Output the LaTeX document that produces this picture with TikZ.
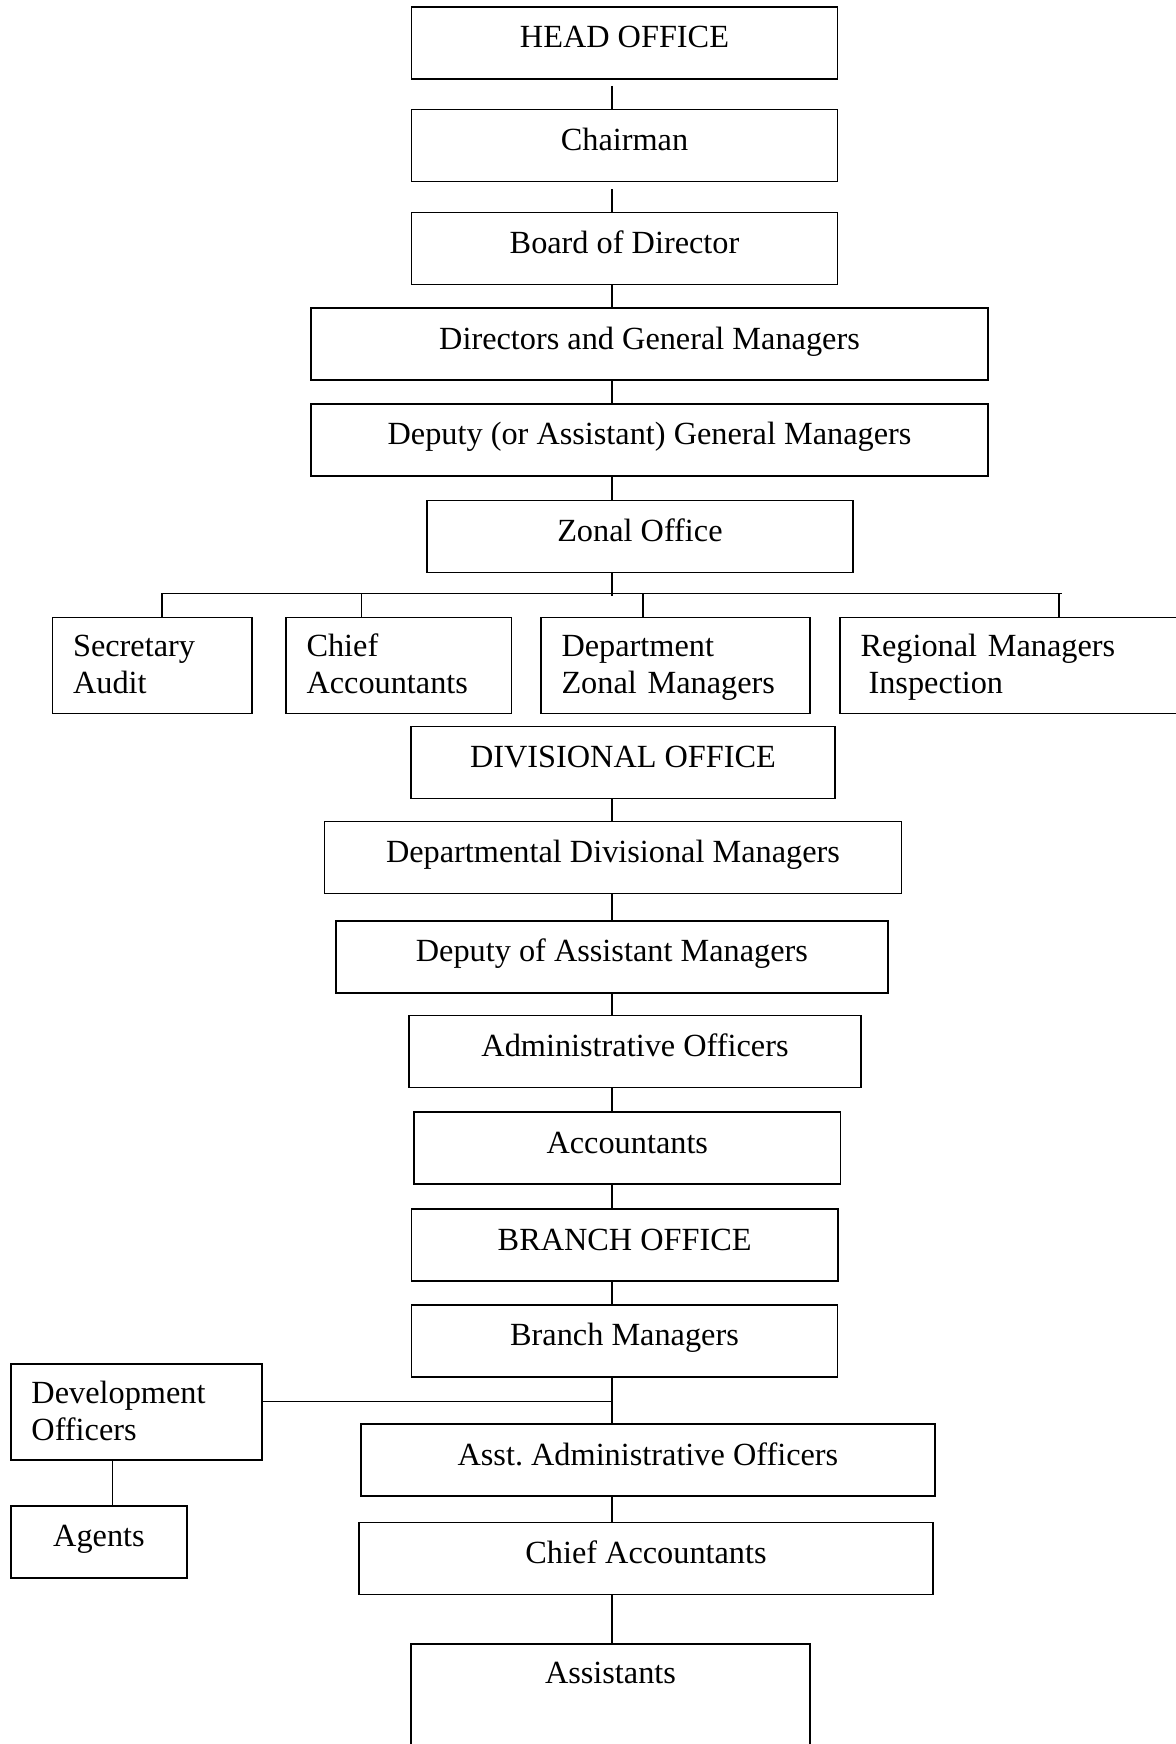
\documentclass[tikz,border=0pt]{standalone}
\usepackage{fontspec}
\setmainfont{Liberation Serif}
\usepackage{tikz}

\begin{document}
\begin{tikzpicture}
\tikzset{box/.style = {shape=rectangle,draw,line width=0.45pt,inner sep=0pt,
font=\fontsize{9.19}{10.44}\selectfont,text height=0.25cm,text depth=0.15cm,
minimum height=0.72cm}}
\tikzset{lbox/.style = {box,align=left,inner xsep=0.205cm,text depth=0.42cm,
minimum height=0.96cm}}
\tikzset{edge/.style = {line width=0.4pt}}
\path[use as bounding box] (0,0) rectangle (11.76,-17.44);
\clip (0,0) rectangle (11.76,-17.44);
% head office
\node[box,minimum width=4.26cm] (head) at (6.245,-0.43) {HEAD OFFICE};
\node[box,minimum width=4.26cm] (chair) at (6.245,-1.457) {Chairman};
\node[box,minimum width=4.26cm] (board) at (6.245,-2.483) {Board of Director};
\node[box,minimum width=6.77cm] (dirs) at (6.495,-3.442) {Directors and General Managers};
\node[box,minimum width=6.77cm] (deputy) at (6.495,-4.40) {Deputy (or Assistant) General Managers};
\node[box,minimum width=4.26cm] (zonal) at (6.399,-5.363) {Zonal Office};
% zonal row
\node[lbox,text width=1.585cm] (sec) at (1.523,-6.653) {Secretary\\Audit};
\node[lbox,text width=1.846cm] (chief) at (3.988,-6.653) {Chief\\Accountants};
\node[lbox,text width=2.28cm] (dept) at (6.755,-6.653) {Department\\Zonal Managers};
\node[lbox,text width=3.19cm] (region) at (10.20,-6.653) {Regional Managers\\\hspace*{0.25em}Inspection};
% divisional office
\node[box,minimum width=4.24cm] (divis) at (6.23,-7.627) {DIVISIONAL OFFICE};
\node[box,minimum width=5.77cm] (ddm) at (6.13,-8.574) {Departmental Divisional Managers};
\node[box,minimum width=5.52cm] (dam) at (6.119,-9.569) {Deputy of Assistant Managers};
\node[box,minimum width=4.515cm] (admin) at (6.35,-10.516) {Administrative Officers};
\node[box,minimum width=4.265cm] (acc) at (6.273,-11.482) {Accountants};
% branch office
\node[box,minimum width=4.26cm] (branch) at (6.247,-12.45) {BRANCH OFFICE};
\node[box,minimum width=4.26cm] (bman) at (6.245,-13.407) {Branch Managers};
\node[lbox,text width=2.10cm] (dev) at (1.365,-14.12) {Development\\Officers};
\node[box,minimum width=1.76cm] (agents) at (0.99,-15.418) {Agents};
\node[box,minimum width=5.737cm] (asst) at (6.479,-14.60) {Asst.\ Administrative Officers};
\node[box,minimum width=5.74cm] (cacc) at (6.46,-15.583) {Chief Accountants};
\node[box,minimum width=3.99cm,minimum height=1.5cm,text depth=0.964cm] (assist) at (6.105,-17.19) {Assistants};
% points
\coordinate (spine) at (6.12,0);
\coordinate (busl) at (1.62,-5.933);
\coordinate (busr) at (10.62,-5.933);
\coordinate (t1) at (1.62,-5.933);
\coordinate (t2) at (3.616,-5.933);
\coordinate (t3) at (6.43,-5.933);
\coordinate (t4) at (10.59,-5.933);
\coordinate (jn) at (6.12,-14.017);
\coordinate (da) at (1.125,0);
%edges
\draw[edge,shorten <=0.06cm] (head.south -| spine) -- (chair.north -| spine);
\draw[edge,shorten <=0.07cm] (chair.south -| spine) -- (board.north -| spine);
\draw[edge] (board.south -| spine) -- (dirs.north -| spine);
\draw[edge] (dirs.south -| spine) -- (deputy.north -| spine);
\draw[edge,line width=0.65pt] (deputy.south -| spine) -- (zonal.north -| spine);
\draw[edge] (zonal.south -| spine) -- ([yshift=-0.03cm]busl -| spine);
\draw[edge] (busl) -- (busr);
\draw[edge] (t1) -- (t1 |- sec.north);
\draw[edge] (t2) -- (t2 |- chief.north);
\draw[edge] (t3) -- (t3 |- dept.north);
\draw[edge] (t4) -- (t4 |- region.north);
\draw[edge] (divis.south -| spine) -- (ddm.north -| spine);
\draw[edge] (ddm.south -| spine) -- (dam.north -| spine);
\draw[edge] (dam.south -| spine) -- (admin.north -| spine);
\draw[edge] (admin.south -| spine) -- (acc.north -| spine);
\draw[edge] (acc.south -| spine) -- (branch.north -| spine);
\draw[edge] (branch.south -| spine) -- (bman.north -| spine);
\draw[edge] (bman.south -| spine) -- (asst.north -| spine);
\draw[edge] (jn -| dev.east) -- (jn);
\draw[edge] (dev.south -| da) -- (agents.north -| da);
\draw[edge] (asst.south -| spine) -- (cacc.north -| spine);
\draw[edge] (cacc.south -| spine) -- (assist.north -| spine);
\end{tikzpicture}
\end{document}
